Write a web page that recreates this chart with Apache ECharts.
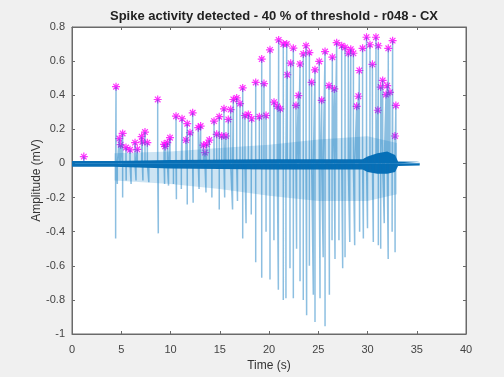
<!DOCTYPE html>
<html>
<head>
<meta charset="utf-8">
<script src="https://cdn.jsdelivr.net/npm/echarts@6/dist/echarts.min.js"></script>
<style>
  html, body { margin: 0; padding: 0; background: #f0f0f0; }
  #chart { width: 504px; height: 377px; }
</style>
</head>
<body>
<div id="chart"></div>
<script>
// detected spikes (magenta stars): time (s) and peak amplitude (mV)
const starT = [1.2, 4.47, 4.8, 4.94, 5.14, 5.48, 5.89, 6.4, 6.63, 7.07, 7.14, 7.41, 7.65, 8.7,
  9.35, 9.45, 9.68, 9.95, 10.56, 11.17, 11.57, 11.7, 11.98, 12.25, 12.82, 13.06, 13.34, 13.5,
  13.67, 13.94, 14.42, 14.69, 14.95, 15.2, 15.43, 15.63, 15.87, 16.11, 16.38, 16.72, 17.06,
  17.33, 17.56, 17.9, 18.24, 18.65, 19.02, 19.26, 19.49, 19.7, 20.1, 20.51, 20.84, 20.98,
  21.15, 21.45, 21.8, 21.86, 22.2, 22.47, 22.74, 22.98, 23.15, 23.48, 23.76, 24.1, 24.33,
  24.67, 25.1, 25.35, 25.69, 26.09, 26.43, 26.63, 26.87, 27.38, 27.72, 28.05, 28.3, 28.57,
  28.9, 29.07, 29.17, 29.5, 29.9, 30.25, 30.5, 30.86, 31.05, 31.1, 31.34, 31.54, 31.88, 32.0,
  32.11, 32.28, 32.55, 32.79, 32.88];
const starV = [0.04, 0.45, 0.146, 0.11, 0.176, 0.093, 0.08, 0.122, 0.083, 0.157, 0.126, 0.184, 0.122, 0.375,
  0.112, 0.1, 0.122, 0.151, 0.277, 0.262, 0.137, 0.233, 0.18, 0.297, 0.21, 0.219, 0.107, 0.064,
  0.112, 0.137, 0.248, 0.171, 0.274, 0.161, 0.32, 0.161, 0.258, 0.316, 0.375, 0.384, 0.351,
  0.443, 0.281, 0.287, 0.262, 0.475, 0.274, 0.612, 0.468, 0.281, 0.666, 0.359, 0.335, 0.724,
  0.32, 0.7, 0.7, 0.52, 0.588, 0.676, 0.34, 0.398, 0.583, 0.642, 0.69, 0.65, 0.475,
  0.549, 0.598, 0.37, 0.656, 0.456, 0.623, 0.437, 0.708, 0.69, 0.68, 0.646, 0.67, 0.646,
  0.335, 0.394, 0.545, 0.675, 0.74, 0.696, 0.581, 0.74, 0.312, 0.69, 0.448, 0.487, 0.404, 0.456,
  0.675, 0.417, 0.72, 0.161, 0.34];

// negative deflections of the signal
const troughT = [4.43, 4.6, 5.14, 5.5, 6.0, 6.5, 7.2, 7.8, 8.76, 9.4, 9.8, 10.3, 10.6, 11.1, 11.7,
  12.3, 12.9, 13.6, 14.2, 14.95, 15.5, 16.3, 16.8, 17.33, 17.67, 18.2, 18.65, 19.26, 19.7, 20.1,
  20.5, 20.95, 21.45, 21.72, 22.13, 22.47, 22.8, 23.15, 23.48, 23.82, 24.1, 24.5, 24.67, 25.18,
  25.5, 25.69, 26.13, 26.4, 26.7, 27.1, 27.48, 27.72, 28.2, 28.7, 29.2, 29.58, 30.0, 30.59,
  31.1, 31.34, 31.7, 32.1, 32.5, 32.8];
const troughV = [-0.44, -0.12, -0.2, -0.1, -0.12, -0.1, -0.1, -0.11, -0.41, -0.12, -0.13, -0.12, -0.21, -0.15, -0.24,
  -0.23, -0.15, -0.17, -0.2, -0.27, -0.2, -0.27, -0.22, -0.44, -0.35, -0.3, -0.58, -0.67, -0.4, -0.68,
  -0.45, -0.74, -0.8, -0.79, -0.615, -0.79, -0.5, -0.69, -0.8, -0.89, -0.6, -0.77, -0.93, -0.79,
  -0.55, -0.955, -0.77, -0.45, -0.56, -0.45, -0.615, -0.55, -0.46, -0.48, -0.4, -0.44, -0.38, -0.46,
  -0.48, -0.5, -0.35, -0.56, -0.4, -0.52];

// dense background activity (light) and baseline noise (dark), upper/lower envelope
const fillT = [4.3, 10, 15, 20, 25, 30, 33];
const fillUp = [0.06, 0.07, 0.09, 0.11, 0.14, 0.16, 0.12];
const fillLo = [-0.1, -0.12, -0.15, -0.19, -0.22, -0.22, -0.18];

const bandT = [0, 4.2, 4.3, 10, 20, 29.5, 30, 31, 32, 32.8, 33.1, 35.3];
const bandUp = [0.015, 0.015, 0.02, 0.02, 0.025, 0.025, 0.04, 0.06, 0.07, 0.05, 0.012, 0.01];
const bandLo = [-0.02, -0.02, -0.03, -0.03, -0.035, -0.035, -0.05, -0.06, -0.06, -0.05, -0.015, -0.012];

var myChart = echarts.init(document.getElementById('chart'));

// signal trace: each event is a vertical excursion from the baseline
var events = [];
starT.forEach(function (t, i) { events.push([t, starV[i]]); });
troughT.forEach(function (t, i) { events.push([t, troughV[i]]); });
events.sort(function (a, b) { return a[0] - b[0]; });
var trace = [[0, 0]];
events.forEach(function (e) {
  trace.push([e[0], 0], [e[0], e[1]], [e[0], 0]);
});
trace.push([35.3, 0]);

function zip(xs, ys) {
  return xs.map(function (x, i) { return [x, ys[i]]; });
}

var FONT = 'Liberation Sans';
var axisCol = '#6a6a6a';

function areaSeries(data, color, op) {
  return {
    type: 'line', data: data, showSymbol: false, silent: true,
    lineStyle: { width: 0 },
    areaStyle: { color: color, opacity: op, origin: 0 }
  };
}

var option = {
  backgroundColor: '#f0f0f0',
  animation: false,
  title: {
    text: 'Spike activity detected - 40 % of threshold - r048 - CX',
    left: 269, top: 5, textAlign: 'center',
    textStyle: { fontFamily: FONT, fontSize: 13, fontWeight: 'bold', color: '#222' }
  },
  grid: {
    left: 72, right: 38, top: 27, bottom: 41,
    show: true, backgroundColor: '#fff', borderColor: axisCol, borderWidth: 1
  },
  xAxis: [{
    type: 'value', min: 0, max: 40, interval: 5,
    name: 'Time (s)', nameLocation: 'middle', nameGap: 26, nameMoveOverlap: false,
    nameTextStyle: { fontFamily: FONT, fontSize: 12, color: '#333', verticalAlign: 'top' },
    axisLine: { onZero: false, lineStyle: { color: axisCol } },
    axisTick: { inside: true, length: 3, lineStyle: { color: axisCol } },
    axisLabel: { fontFamily: FONT, fontSize: 11, color: '#444', margin: 10 },
    splitLine: { show: false }
  }, {
    type: 'value', min: 0, max: 40, interval: 5, position: 'top',
    axisLine: { onZero: false, lineStyle: { color: axisCol } },
    axisTick: { inside: true, length: 3, lineStyle: { color: axisCol } },
    axisLabel: { show: false }, splitLine: { show: false }
  }],
  yAxis: [{
    type: 'value', min: -1, max: 0.8, interval: 0.2,
    name: 'Amplitude (mV)', nameLocation: 'middle', nameGap: 35, nameMoveOverlap: false,
    nameTextStyle: { fontFamily: FONT, fontSize: 12, color: '#333', verticalAlign: 'middle' },
    axisLine: { show: true, onZero: false, lineStyle: { color: axisCol } },
    axisTick: { show: true, inside: true, length: 3, lineStyle: { color: axisCol } },
    axisLabel: {
      fontFamily: FONT, fontSize: 11, color: '#444', margin: 7,
      formatter: function (v) { return String(+v.toFixed(1)); }
    },
    splitLine: { show: false }
  }, {
    type: 'value', min: -1, max: 0.8, interval: 0.2, position: 'right',
    axisLine: { show: true, onZero: false, lineStyle: { color: axisCol } },
    axisTick: { show: true, inside: true, length: 3, lineStyle: { color: axisCol } },
    axisLabel: { show: false }, splitLine: { show: false }
  }],
  series: [
    areaSeries(zip(fillT, fillUp), '#5aa7d8', 0.3),
    areaSeries(zip(fillT, fillLo), '#5aa7d8', 0.3),
    {
      type: 'line', data: trace, showSymbol: false, silent: true,
      lineStyle: { color: '#0072BD', width: 1.5, opacity: 0.45 }
    },
    areaSeries(zip(bandT, bandUp), '#0a6fb5', 1),
    areaSeries(zip(bandT, bandLo), '#0a6fb5', 1),
    {
      type: 'scatter', data: zip(starT, starV),
      symbol: 'path://M5,0L5,10M0,5L10,5M1.5,1.5L8.5,8.5M1.5,8.5L8.5,1.5',
      symbolSize: 8,
      itemStyle: { color: 'rgba(255,0,255,0.15)', borderColor: '#ff00ff', borderWidth: 1.2 }
    }
  ]
};

myChart.setOption(option);
</script>
</body>
</html>
